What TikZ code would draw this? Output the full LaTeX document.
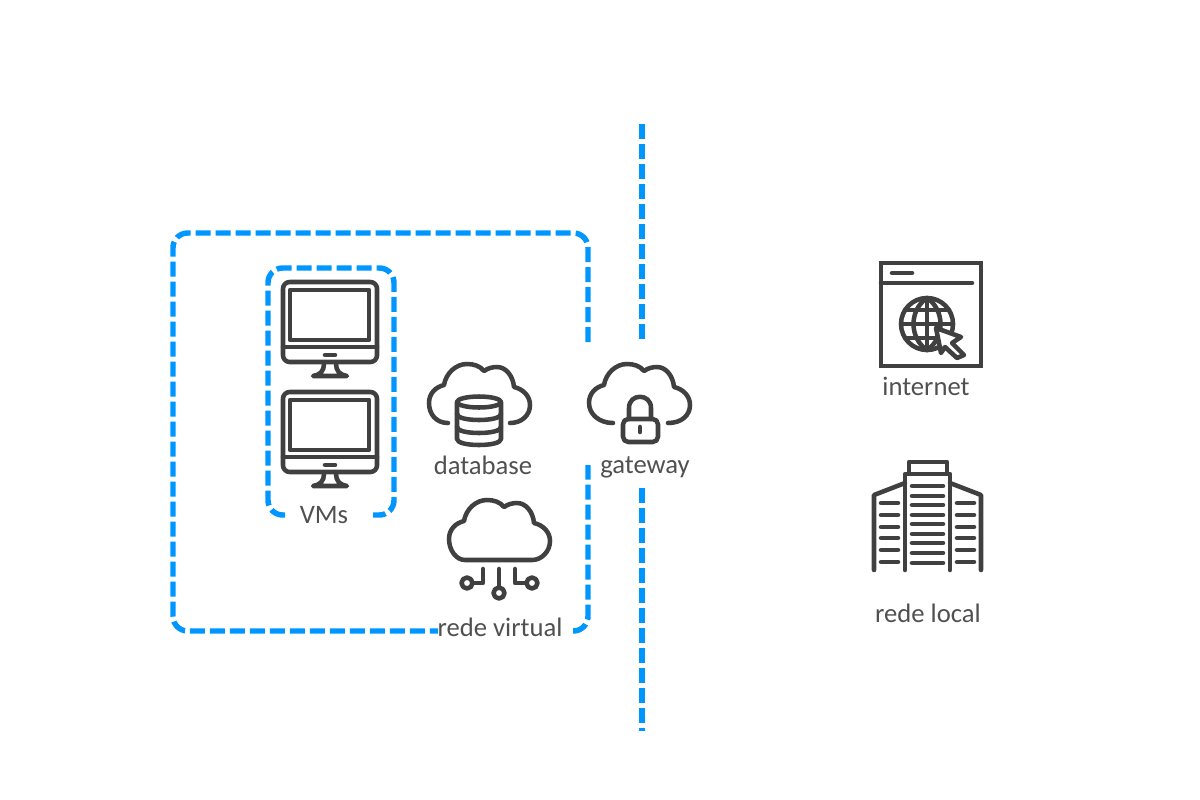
\documentclass[tikz,border=0pt]{standalone}
\usepackage{fontspec}
\setmainfont{Carlito}
\definecolor{iconc}{HTML}{404040}
\definecolor{textc}{HTML}{505050}
\definecolor{bluec}{HTML}{0096FF}
\newcommand{\cloudupper}{(429,403) .. controls (429,393) and (436,387) .. (444,385) .. controls (446,373) and (456,364) .. (467,364) .. controls (474,364) and (480,366) .. (484,371) .. controls (488,368) and (493,367) .. (497,367) .. controls (506,367) and (513,376) .. (514,387) .. controls (523,389) and (530,396) .. (530,405)}
\tikzset{
  x=0.75pt,y=-0.75pt,
  frameline/.style={draw=bluec,line width=4.1pt,dash pattern=on 11.25pt off 3.75pt,rounded corners=11pt},
  icon/.style={draw=iconc,line width=3.4pt,line cap=round,line join=round},
  lbl/.style={text=textc,font=\fontsize{20}{24}\selectfont,inner sep=0pt,anchor=base},
  monitor/.pic={
    \draw[icon,rounded corners=5pt] (283,347) -- (283,282) -- (377,282) -- (377,362) -- (283,362) -- cycle;
    \draw[icon] (283,347) -- (377,347);
    \draw[icon] (290,290) rectangle (369,340);
    \draw[icon] (325,355) -- (335,355);
    \draw[icon] (324,364) .. controls (324,371) and (320,375) .. (313,376) -- (347,376) .. controls (340,375) and (336,371) .. (336,364);
  }
}
\begin{document}
\begin{tikzpicture}
\useasboundingbox (0,0) rectangle (1200,800);
% frames
\draw[frameline] (588,342) -- (588,233) -- (173,233) -- (173,631) -- (438,631);
\draw[frameline] (573,631) -- (588,631) -- (588,465);
\draw[frameline,rounded corners=0pt] (642,124) -- (642,342);
\draw[frameline,rounded corners=0pt] (642,488) -- (642,731);
\draw[frameline] (285,515) -- (268,515) -- (268,268) -- (394,268) -- (394,515) -- (373,515);
% monitors
\pic {monitor};
\pic[shift={(0,110)}] {monitor};
% database cloud
\draw[icon] (448,423) .. controls (436,423) and (429,414) .. \cloudupper .. controls (530,415) and (522,423) .. (510,423);
\draw[icon] (457,402) -- (457,439) .. controls (457,447) and (501,447) .. (501,439) -- (501,402);
\draw[icon] (479,402) ellipse [x radius=22,y radius=5.5];
\draw[icon] (457,414) .. controls (457,422) and (501,422) .. (501,414);
\draw[icon] (457,427) .. controls (457,435) and (501,435) .. (501,427);
% gateway cloud
\begin{scope}[shift={(160,0)}]
\draw[icon] (453,423) .. controls (439,423) and (429,414) .. \cloudupper .. controls (530,415) and (522,423) .. (508,423);
\end{scope}
\draw[icon,rounded corners=4pt] (623,419) rectangle (658,442);
\draw[icon] (629,419) -- (629,408) .. controls (629,393) and (651,393) .. (651,408) -- (651,419);
\draw[icon] (640,427) -- (640,432);
% network cloud
\begin{scope}[shift={(20,136)}]
\draw[icon] (445,424) .. controls (436,424) and (429,414) .. \cloudupper .. controls (530,415) and (522,424) .. (512,424) -- cycle;
\end{scope}
\draw[icon] (483,569) -- (483,583) -- (473,583);
\draw[icon] (467,583) circle [radius=5.5];
\draw[icon] (499,569) -- (499,587);
\draw[icon] (499,593) circle [radius=5.5];
\draw[icon] (515,569) -- (515,583) -- (526,583);
\draw[icon] (532,583) circle [radius=5.5];
% browser
\draw[icon,line cap=butt,line join=miter] (881,263) rectangle (981,366);
\draw[icon] (881,283) -- (972,283);
\draw[icon] (892,273) -- (912,273);
\draw[icon] (927,324) circle [radius=26];
\draw[icon] (927,298) -- (927,350);
\draw[icon] (927,298) .. controls (909,310) and (909,338) .. (927,350);
\draw[icon] (927,298) .. controls (945,310) and (945,338) .. (927,350);
\draw[icon] (901,324) -- (953,324);
\draw[icon] (905,310) -- (949,310);
\draw[icon] (905,338) -- (949,338);
\draw[icon,fill=white] (936,328) -- (961,337) -- (952,343) -- (964,355) -- (957,358) -- (945,347) -- (941,353) -- cycle;
% building
\draw[icon] (909,473) -- (909,462) -- (947,462) -- (947,473);
\draw[icon] (905,570) -- (905,474) -- (950,474) -- (950,570);
\draw[icon] (905,483) -- (874,495) -- (874,570);
\draw[icon] (950,483) -- (981,495) -- (981,570);
\foreach \yy in {486,496,505,515,524,534,543,553,563} \draw[icon] (912,\yy) -- (943,\yy);
\foreach \yy in {503,515,527,538,550,562} {
  \draw[icon] (881,\yy) -- (898,\yy);
  \draw[icon] (957,\yy) -- (974,\yy);
}
% labels
\node[lbl] (vms) at (324,523) {VMs};
\node[lbl] (database) at (483,474.5) {database};
\node[lbl] (gateway) at (645,473.5) {gateway};
\node[lbl] (redevirtual) at (500,636) {rede virtual};
\node[lbl] (internet) at (926,395.5) {internet};
\node[lbl] (redelocal) at (928,622) {rede local};
\end{tikzpicture}
\end{document}
